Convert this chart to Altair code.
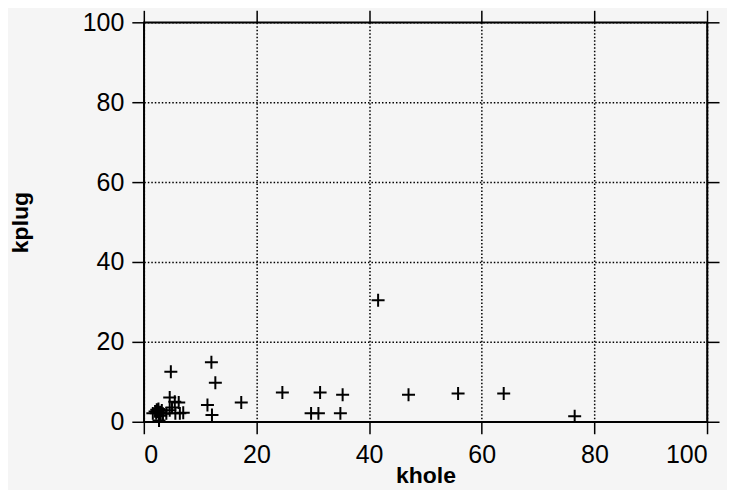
import altair as alt
import pandas as pd

khole = [1.6, 2.2, 2.5, 2.4, 2.8, 3.0, 2.7, 3.2, 4.0, 4.6, 4.6, 5.5, 5.0, 5.6, 6.4, 7.0, 4.8, 6.2,
         2.0, 2.6, 3.4, 2.3, 2.9,
         11.3, 12.1, 12.0, 12.7, 17.3, 24.6, 29.7, 31.0, 31.3, 34.9, 35.3, 41.6, 47.0, 55.8, 63.9, 76.5]
kplug = [2.1, 2.1, 2.9, 2.5, 2.2, 1.5, 0.3, 2.8, 2.1, 2.9, 6.1, 5.0, 3.6, 2.1, 2.1, 2.25, 12.5, 4.8,
         2.6, 3.2, 2.0, 3.0, 2.4,
         4.2, 1.7, 14.9, 9.75, 4.85, 7.3, 2.1, 2.1, 7.3, 2.1, 6.75, 30.4, 6.75, 7.1, 7.1, 1.4]
ticks = [0, 20, 40, 60, 80, 100]

df = pd.DataFrame({"khole": khole, "kplug": kplug})

FONT = "Liberation Sans"
xs = alt.Scale(domain=[0, 100], nice=False)
ys = alt.Scale(domain=[0, 100], nice=False)

points = alt.Chart(df).mark_point(
    shape="M-1,0L1,0M0,-1L0,1", filled=False, stroke="black", strokeWidth=2, size=169, opacity=1
).encode(
    x=alt.X("khole:Q", scale=xs, axis=alt.Axis(
        values=ticks, title="khole", grid=True, titleY=61, titleBaseline="alphabetic",
        labelPadding=9)),
    y=alt.Y("kplug:Q", scale=ys, axis=alt.Axis(
        values=ticks, title="kplug", grid=True, titleX=-116, titleY=200,
        titleAngle=-90, titleAlign="center", titleBaseline="alphabetic", labelPadding=8)),
)

mirror = alt.Chart(df).mark_point(opacity=0).encode(
    x=alt.X("khole:Q", scale=xs, axis=alt.Axis(
        orient="top", values=ticks, labels=False, title=None, grid=False)),
    y=alt.Y("kplug:Q", scale=ys, axis=alt.Axis(
        orient="right", values=ticks, labels=False, title=None, grid=False)),
)

chart = alt.layer(mirror, points).resolve_axis(x="independent", y="independent").properties(
    width=564, height=400,
    autosize=alt.AutoSizeParams(type="none"),
    padding={"left": 136, "top": 14, "right": 20, "bottom": 68},
    background="#f5f5f5",
).configure_view(stroke="black", strokeWidth=1.5).configure_axis(
    domainColor="black", domainWidth=1.5, tickColor="black", tickWidth=1.5, tickSize=12,
    gridColor="black", gridDash=[1.5, 2], gridWidth=1.5, gridOpacity=1,
    labelFont=FONT, labelFontSize=25, labelColor="black",
    titleFont=FONT, titleFontSize=23, titleFontWeight="bold", titleColor="black",
)

chart.save("out.html", embed_options={"renderer": "svg", "actions": False})
